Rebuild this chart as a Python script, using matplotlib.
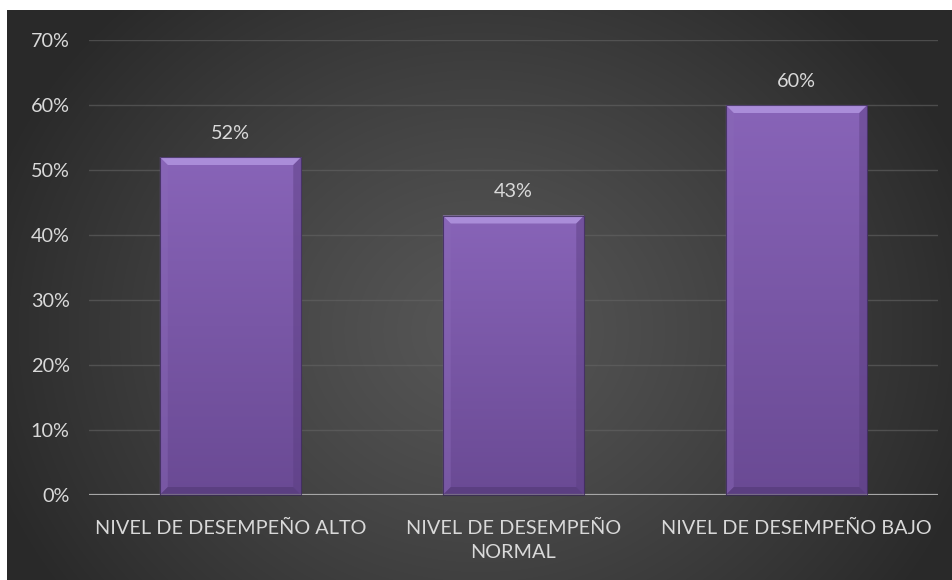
import textwrap
import numpy as np
import matplotlib
matplotlib.use("Agg")
import matplotlib.pyplot as plt
from matplotlib.patches import Polygon
from matplotlib.transforms import IdentityTransform

categories = ["NIVEL DE DESEMPEÑO ALTO", "NIVEL DE DESEMPEÑO NORMAL", "NIVEL DE DESEMPEÑO BAJO"]
values = [0.52, 0.43, 0.60]
yticks = [0.0, 0.1, 0.2, 0.3, 0.4, 0.5, 0.6, 0.7]
ytick_labels = ["0%", "10%", "20%", "30%", "40%", "50%", "60%", "70%"]

plt.rcParams["font.family"] = ["Lato", "DejaVu Sans"]
TEXT = "#d9d9d9"
FS = 14.3

W, H = 953, 580
fig = plt.figure(figsize=(W / 100, H / 100), dpi=100)
fig.patch.set_facecolor("white")

# dark radial-gradient chart area
bg = fig.add_axes([7 / W, 0, (W - 7) / W, (H - 10) / H])
bg.set_axis_off()
bw, bh = W - 7, H - 10
xx, yy = np.meshgrid(np.arange(bw), np.arange(bh))
cx, cy = 473, 320
r = np.sqrt(((xx - cx) / (bw * 0.55)) ** 2 + ((yy - cy) / (bh * 0.8)) ** 2)
r = np.clip(r, 0, 1) ** 1.2
g = (86 - 45 * r) / 255.0
bg.imshow(np.dstack([g, g, g]), aspect="auto", extent=(0, bw, bh, 0))
bg.set_xlim(0, bw)
bg.set_ylim(bh, 0)

ax = fig.add_axes([89 / W, 85 / H, (938 - 89) / W, 455 / H])
ax.set_facecolor("none")
for s in ax.spines.values():
    s.set_visible(False)

x = np.arange(len(categories))
bars = ax.bar(x, values, width=0.5, color="#7f5cae", zorder=3)
ax.set_xlim(-0.5, len(categories) - 0.5)
ax.set_ylim(0, 0.7)

ax.set_yticks(yticks)
ax.set_yticklabels(ytick_labels)
ax.set_xticks(x)
ax.set_xticklabels([textwrap.fill(c, 24) for c in categories], linespacing=1.5)
ax.tick_params(axis="both", length=0, colors=TEXT, labelsize=FS)
ax.tick_params(axis="y", pad=14)
ax.tick_params(axis="x", pad=18)
ax.grid(axis="y", color="#646464", linewidth=1, alpha=0.6, zorder=0)
ax.axhline(0, color="#a6a6a6", linewidth=1.6, zorder=4)

# vertical gradient inside each bar
grad = np.linspace(0, 1, 256).reshape(-1, 1)
top_c = np.array([0x88, 0x64, 0xb8]) / 255
bot_c = np.array([0x6a, 0x4a, 0x94]) / 255
gimg = top_c * (1 - grad[..., None]) + bot_c * grad[..., None]
gimg = gimg.reshape(256, 1, 3)
for b in bars:
    x0, y0 = b.get_x(), b.get_y()
    x1, y1 = x0 + b.get_width(), y0 + b.get_height()
    im = ax.imshow(gimg, extent=(x0, x1, y0, y1), aspect="auto", zorder=3.5,
                   interpolation="bilinear")
    im.set_clip_path(b)
ax.set_xlim(-0.5, len(categories) - 0.5)
ax.set_ylim(0, 0.7)

# bevelled edges, in pixel space
fig.canvas.draw()
bev = 8
for b in bars:
    (px0, py0), (px1, py1) = ax.transData.transform(
        [(b.get_x(), b.get_y()), (b.get_x() + b.get_width(), b.get_y() + b.get_height())])
    faces = [
        ([(px0, py1), (px1, py1), (px1 - bev, py1 - bev), (px0 + bev, py1 - bev)], "#ad90dc", 0.95),
        ([(px0, py0), (px0, py1), (px0 + bev, py1 - bev), (px0 + bev, py0 + bev)], "#8a69b8", 0.45),
        ([(px1, py0), (px1, py1), (px1 - bev, py1 - bev), (px1 - bev, py0 + bev)], "#5a3d80", 0.45),
        ([(px0, py0), (px1, py0), (px1 - bev, py0 + bev), (px0 + bev, py0 + bev)], "#4e3570", 0.5),
    ]
    for pts, col, a in faces:
        fig.patches.append(Polygon(pts, closed=True, transform=IdentityTransform(),
                                   facecolor=col, edgecolor="none", alpha=a, zorder=5))
    fig.patches.append(Polygon([(px0, py0), (px1, py0), (px1, py1), (px0, py1)], closed=True,
                               transform=IdentityTransform(), facecolor="none",
                               edgecolor="#3a2a55", linewidth=0.8, alpha=0.8, zorder=6))

for b, v in zip(bars, values):
    ax.annotate(f"{v:.0%}", (b.get_x() + b.get_width() / 2, v), xytext=(0, 11),
                textcoords="offset points", ha="center", va="bottom",
                color=TEXT, fontsize=FS, zorder=6)

fig.savefig("out.png", dpi=100, facecolor=fig.get_facecolor())
